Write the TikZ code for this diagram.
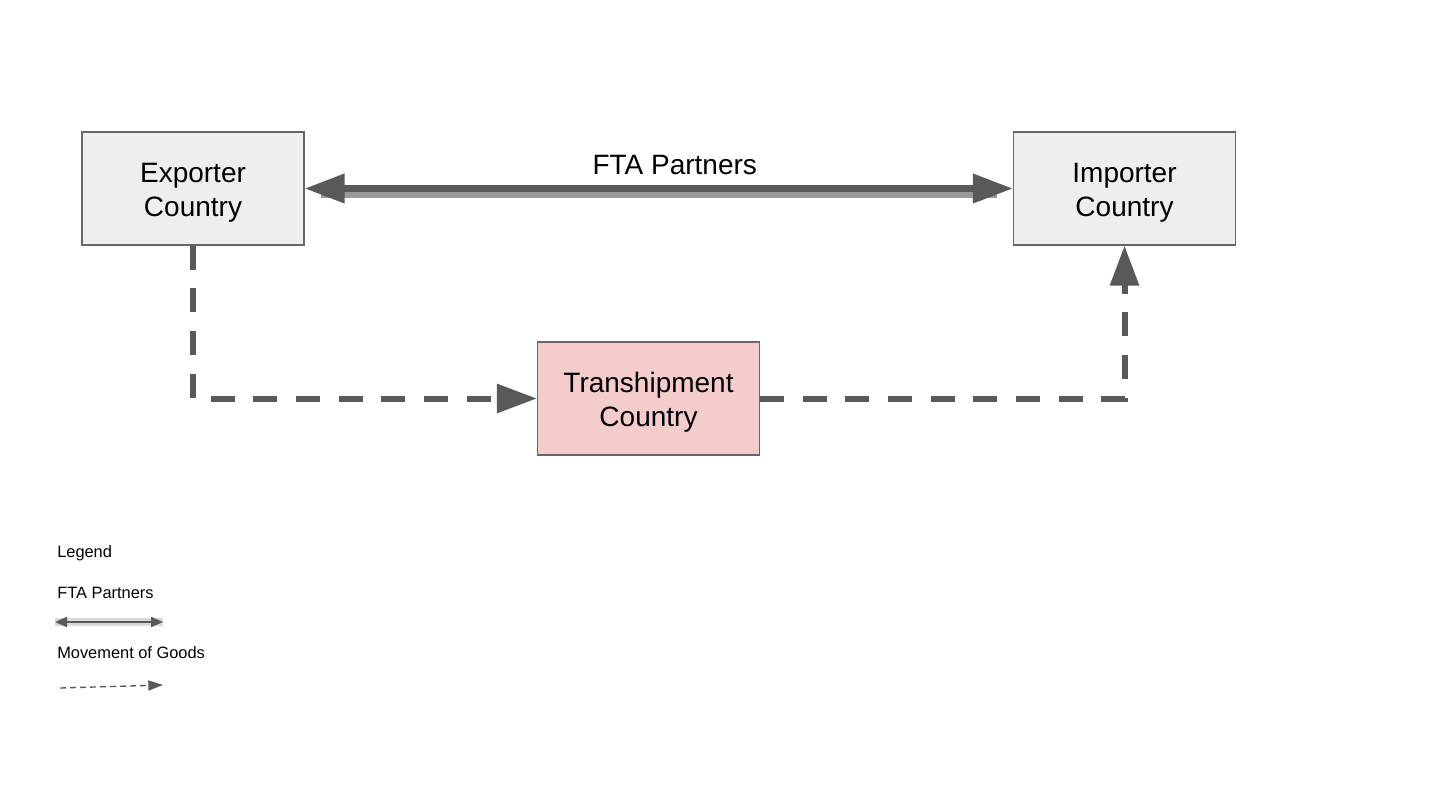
\documentclass[tikz,border=0pt]{standalone}
\usepackage{fontspec}
\setmainfont{Liberation Sans}
\definecolor{ArrowGrey}{RGB}{89, 89, 89}
\definecolor{BandGrey}{RGB}{153, 153, 153}
\definecolor{BoxGrey}{RGB}{238, 238, 238}
\definecolor{BoxEdge}{RGB}{102, 102, 102}
\definecolor{ShipPink}{RGB}{244, 204, 204}
\usetikzlibrary{arrows.meta, positioning, calc}

\begin{document}
\begin{tikzpicture}[
            x=0.75pt, y=-0.75pt,
            country/.style={rectangle, draw=BoxEdge, fill=BoxGrey, line width=0.9pt,
                        minimum width=166.5pt, minimum height=84.75pt, align=center,
                        text height=46.5pt, font=\fontsize{21}{25.5}\selectfont, inner sep=0pt},
            fta/.style={{Triangle[length=30pt, width=21pt]}-{Triangle[length=30pt, width=21pt]},
                        line width=5.25pt, ArrowGrey},
            ftaband/.style={line width=4.5pt, BandGrey, shorten <=12pt, shorten >=12pt},
            goods/.style={-{Triangle[length=30pt, width=21pt]}, line width=4.5pt, ArrowGrey,
                        dash pattern=on 18pt off 14pt},
            legendtext/.style={anchor=west, font=\fontsize{12.3}{14}\selectfont, inner sep=0pt}
        ]
            \useasboundingbox (0,0) rectangle (1455,810);

            \node[country] (exporter) at (193,188.5) {Exporter\\Country};
            \node[country] (importer) at (1124.5,188.5) {Importer\\Country};
            \node[country, fill=ShipPink] (tranship) at (648.5,398.5) {Transhipment\\Country};

            % FTA partners
            \draw[ftaband] ([yshift=-4.9pt]exporter.east) -- ([yshift=-4.9pt]importer.west);
            \draw[fta] (exporter.east) -- node[above=4pt, xshift=12pt, black,
                  font=\fontsize{21}{25}\selectfont] (ftalabel) {FTA Partners} (importer.west);

            % movement of goods
            \draw[goods] (exporter.south) |- (tranship.west);
            \draw[goods] (tranship.east) -| (importer.south);

            % legend
            \node[legendtext] (legend) at (57,553) {Legend};
            \node[legendtext] (legfta) at (57,593) {FTA Partners};
            \node[legendtext] (leggoods) at (57,653) {Movement of Goods};
            \coordinate (ftaA) at (55,622);
            \coordinate (ftaB) at (163,622);
            \coordinate (goodsA) at (60,688);
            \coordinate (goodsB) at (163,685);
            \draw[line width=6pt, black!15] (ftaA) -- (ftaB);
            \draw[{Triangle[length=9pt, width=7.5pt]}-{Triangle[length=9pt, width=7.5pt]},
                  line width=1.5pt, ArrowGrey] (ftaA) -- (ftaB);
            \draw[-{Triangle[length=11pt, width=7.5pt]}, line width=1pt, ArrowGrey,
                  dash pattern=on 4.5pt off 3pt] (goodsA) -- (goodsB);
        \end{tikzpicture}
\end{document}
